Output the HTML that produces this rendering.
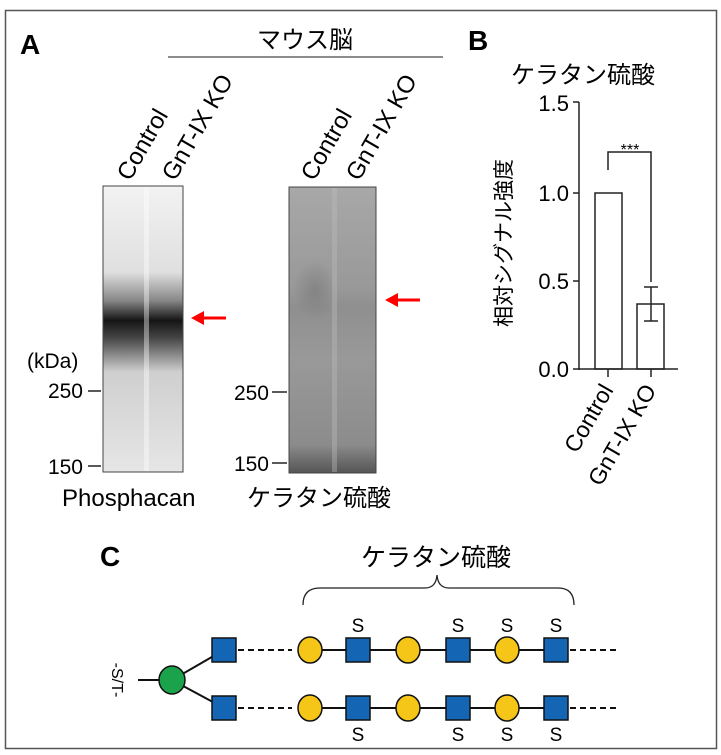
<!DOCTYPE html>
<html><head><meta charset="utf-8"><style>
body{margin:0;background:#fff;}
svg{display:block;font-family:"Liberation Sans","Noto Sans CJK JP",sans-serif;}
</style></head><body>
<svg width="721" height="755" viewBox="0 0 721 755" xmlns="http://www.w3.org/2000/svg">
<defs>
<linearGradient id="g1" x1="0" y1="0" x2="0" y2="1">
<stop offset="0" stop-color="#f2f2f2"/><stop offset="0.3" stop-color="#e0e0e0"/>
<stop offset="0.4" stop-color="#888"/><stop offset="0.47" stop-color="#151515"/><stop offset="0.53" stop-color="#444"/>
<stop offset="0.65" stop-color="#cfcfcf"/><stop offset="1" stop-color="#e6e6e6"/>
</linearGradient>
<linearGradient id="g2" x1="0" y1="0" x2="0" y2="1">
<stop offset="0" stop-color="#a8a8a8"/><stop offset="0.35" stop-color="#999"/>
<stop offset="0.42" stop-color="#8f8f8f"/><stop offset="0.6" stop-color="#999"/>
<stop offset="0.9" stop-color="#8c8c8c"/><stop offset="1" stop-color="#555"/>
</linearGradient>
<radialGradient id="spot"><stop offset="0" stop-color="#777" stop-opacity="0.6"/><stop offset="1" stop-color="#777" stop-opacity="0"/></radialGradient>
</defs>
<rect x="5.5" y="10.5" width="711" height="738" fill="none" stroke="#555" stroke-width="1.5"/>
<!-- A -->
<text x="20" y="54" font-size="28" font-weight="bold">A</text>
<text x="305" y="48" font-size="24" text-anchor="middle">マウス脳</text>
<line x1="168" y1="57" x2="443" y2="57" stroke="#666" stroke-width="1.5"/>
<g font-size="24">
<text transform="translate(130,182) rotate(-60)">Control</text>
<text transform="translate(175,182) rotate(-60)">GnT-IX KO</text>
<text transform="translate(314,182) rotate(-60)">Control</text>
<text transform="translate(359,182) rotate(-60)">GnT-IX KO</text>
</g>
<rect x="103" y="186" width="80" height="286" fill="url(#g1)" stroke="#444"/>
<rect x="144" y="187" width="5" height="284" fill="#fff" opacity="0.4"/>
<rect x="289" y="187" width="87" height="286" fill="url(#g2)" stroke="#444"/>
<ellipse cx="315" cy="290" rx="22" ry="30" fill="url(#spot)"/>
<rect x="332" y="188" width="5" height="284" fill="#bbb" opacity="0.4"/>
<g fill="red" stroke="red" stroke-width="3">
<line x1="200" y1="318" x2="226" y2="318"/><polygon points="191,318 204,311 204,325" stroke="none"/>
<line x1="394" y1="300" x2="420" y2="300"/><polygon points="385,300 398,293 398,307" stroke="none"/>
</g>
<g font-size="21">
<text x="27" y="368">(kDa)</text>
<text x="83" y="398" text-anchor="end">250</text>
<text x="83" y="474" text-anchor="end">150</text>
<text x="269" y="400" text-anchor="end">250</text>
<text x="269" y="471" text-anchor="end">150</text>
</g>
<g stroke="#222" stroke-width="1.5">
<line x1="88" y1="391" x2="101" y2="391"/><line x1="88" y1="466" x2="101" y2="466"/>
<line x1="272" y1="392" x2="287" y2="392"/><line x1="272" y1="463" x2="287" y2="463"/>
</g>
<text x="62" y="506" font-size="24">Phosphacan</text>
<text x="247" y="506" font-size="24">ケラタン硫酸</text>
<!-- B -->
<text x="468" y="50" font-size="28" font-weight="bold">B</text>
<text x="583" y="83" font-size="24" text-anchor="middle">ケラタン硫酸</text>
<g stroke="#222" stroke-width="1.5" fill="none">
<line x1="579" y1="102" x2="579" y2="370"/>
<line x1="573" y1="102" x2="579" y2="102"/><line x1="573" y1="193" x2="579" y2="193"/>
<line x1="573" y1="281" x2="579" y2="281"/><line x1="573" y1="369" x2="579" y2="369"/>
<line x1="579" y1="369" x2="678" y2="369"/>
<line x1="608" y1="369" x2="608" y2="377"/><line x1="651" y1="369" x2="651" y2="377"/>
<rect x="595" y="193" width="27" height="176"/>
<rect x="637" y="304" width="27" height="65"/>
<line x1="651" y1="287" x2="651" y2="321"/><line x1="644" y1="287" x2="658" y2="287"/><line x1="644" y1="321" x2="658" y2="321"/>
<polyline points="608,170 608,152 651,152 651,282"/>
</g>
<text x="630" y="155" font-size="16" text-anchor="middle">***</text>
<g font-size="22" text-anchor="end">
<text x="569" y="111">1.5</text><text x="569" y="201">1.0</text>
<text x="569" y="289">0.5</text><text x="569" y="377">0.0</text>
</g>
<text transform="translate(511,243) rotate(-90)" font-size="21" text-anchor="middle">相対シグナル強度</text>
<g font-size="23" text-anchor="end">
<text transform="translate(614,390) rotate(-60)">Control</text>
<text transform="translate(657,390) rotate(-60)">GnT-IX KO</text>
</g>
<!-- C -->
<text x="100" y="566" font-size="28" font-weight="bold">C</text>
<text x="436" y="566" font-size="25" text-anchor="middle">ケラタン硫酸</text>
<path d="M303,605 Q303,588 320,588 L425,588 Q436,588 437,575 Q438,588 449,588 L558,588 Q574,588 574,605" fill="none" stroke="#222" stroke-width="1.3"/>
<text transform="translate(112,680) rotate(90)" font-size="16" text-anchor="middle">-S/T-</text>
<g stroke="#111" stroke-width="2" fill="none">
<line x1="138" y1="680" x2="160" y2="680"/>
<line x1="172" y1="680" x2="224" y2="650"/><line x1="172" y1="680" x2="224" y2="708"/>
<line x1="310" y1="650" x2="556" y2="650"/><line x1="310" y1="708" x2="556" y2="708"/>
<g stroke-dasharray="6,4"><line x1="238" y1="650" x2="292" y2="650"/><line x1="238" y1="708" x2="292" y2="708"/>
<line x1="570" y1="650" x2="620" y2="650"/><line x1="570" y1="708" x2="620" y2="708"/></g>
</g>
<ellipse cx="172" cy="680" rx="13" ry="14" fill="#1aa34a" stroke="#111" stroke-width="1.5"/>
<g stroke="#111" stroke-width="1.5">
<g fill="#1565b5">
<rect x="212" y="638" width="24" height="24"/><rect x="346" y="638" width="24" height="24"/><rect x="446" y="638" width="24" height="24"/><rect x="544" y="638" width="24" height="24"/>
<rect x="212" y="696" width="24" height="24"/><rect x="346" y="696" width="24" height="24"/><rect x="446" y="696" width="24" height="24"/><rect x="544" y="696" width="24" height="24"/>
</g>
<g fill="#f5c518">
<ellipse cx="310" cy="650" rx="12" ry="13"/><ellipse cx="408" cy="650" rx="12" ry="13"/><ellipse cx="507" cy="650" rx="12" ry="13"/>
<ellipse cx="310" cy="708" rx="12" ry="13"/><ellipse cx="408" cy="708" rx="12" ry="13"/><ellipse cx="507" cy="708" rx="12" ry="13"/>
</g>
</g>
<g font-size="19" text-anchor="middle">
<text x="358" y="632">S</text><text x="458" y="632">S</text><text x="507" y="632">S</text><text x="556" y="632">S</text>
<text x="358" y="741">S</text><text x="458" y="741">S</text><text x="507" y="741">S</text><text x="556" y="741">S</text>
</g>
</svg>
</body></html>
